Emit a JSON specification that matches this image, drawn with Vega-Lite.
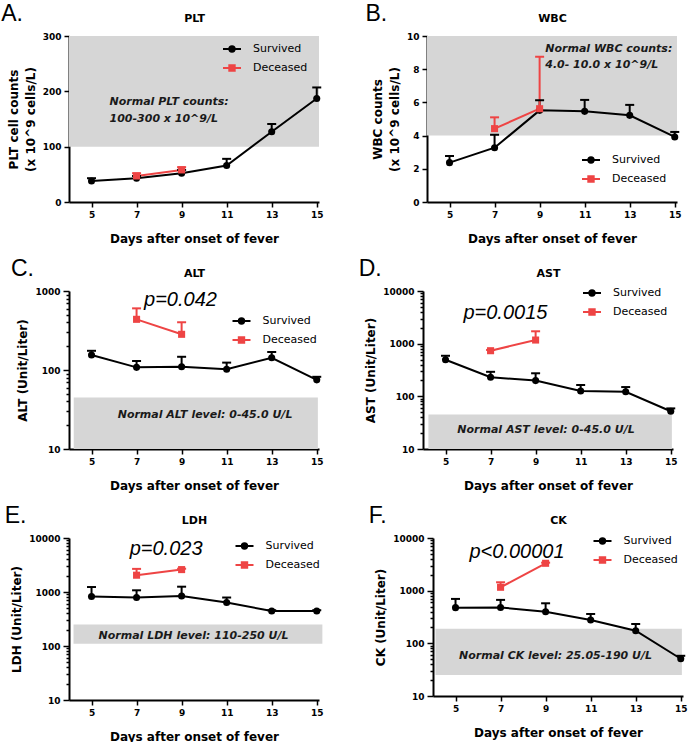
{
  "$schema": "https://vega.github.io/schema/vega-lite/v6.json",
  "padding": {"left": 1, "top": 3, "right": 2, "bottom": 0},
  "background": "white",
  "datasets": {
    "d": [
      {"panel": "PLT", "group": "Survived", "day": 5, "mean": 38, "upper": 43},
      {"panel": "PLT", "group": "Survived", "day": 7, "mean": 43, "upper": 47},
      {"panel": "PLT", "group": "Survived", "day": 9, "mean": 52, "upper": 58},
      {"panel": "PLT", "group": "Survived", "day": 11, "mean": 66, "upper": 78},
      {"panel": "PLT", "group": "Survived", "day": 13, "mean": 127, "upper": 141},
      {"panel": "PLT", "group": "Survived", "day": 15, "mean": 187, "upper": 207},
      {"panel": "PLT", "group": "Deceased", "day": 7, "mean": 47, "upper": 52},
      {"panel": "PLT", "group": "Deceased", "day": 9, "mean": 58, "upper": 63},
      {"panel": "WBC", "group": "Survived", "day": 5, "mean": 2.37, "upper": 2.77},
      {"panel": "WBC", "group": "Survived", "day": 7, "mean": 3.27, "upper": 4.05},
      {"panel": "WBC", "group": "Survived", "day": 9, "mean": 5.52, "upper": 6.13},
      {"panel": "WBC", "group": "Survived", "day": 11, "mean": 5.46, "upper": 6.15},
      {"panel": "WBC", "group": "Survived", "day": 13, "mean": 5.22, "upper": 5.85},
      {"panel": "WBC", "group": "Survived", "day": 15, "mean": 3.92, "upper": 4.22},
      {"panel": "WBC", "group": "Deceased", "day": 7, "mean": 4.42, "upper": 5.1},
      {"panel": "WBC", "group": "Deceased", "day": 9, "mean": 5.62, "upper": 8.75},
      {"panel": "ALT", "group": "Survived", "day": 5, "mean": 155, "upper": 175},
      {"panel": "ALT", "group": "Survived", "day": 7, "mean": 108, "upper": 130},
      {"panel": "ALT", "group": "Survived", "day": 9, "mean": 110, "upper": 147},
      {"panel": "ALT", "group": "Survived", "day": 11, "mean": 102, "upper": 124},
      {"panel": "ALT", "group": "Survived", "day": 13, "mean": 143, "upper": 169},
      {"panel": "ALT", "group": "Survived", "day": 15, "mean": 75, "upper": 82},
      {"panel": "ALT", "group": "Deceased", "day": 7, "mean": 438, "upper": 603},
      {"panel": "ALT", "group": "Deceased", "day": 9, "mean": 283, "upper": 402},
      {"panel": "AST", "group": "Survived", "day": 5, "mean": 494, "upper": 589},
      {"panel": "AST", "group": "Survived", "day": 7, "mean": 230, "upper": 292},
      {"panel": "AST", "group": "Survived", "day": 9, "mean": 199, "upper": 274},
      {"panel": "AST", "group": "Survived", "day": 11, "mean": 126, "upper": 164},
      {"panel": "AST", "group": "Survived", "day": 13, "mean": 122, "upper": 150},
      {"panel": "AST", "group": "Survived", "day": 15, "mean": 52, "upper": 59},
      {"panel": "AST", "group": "Deceased", "day": 7, "mean": 735, "upper": 760},
      {"panel": "AST", "group": "Deceased", "day": 9, "mean": 1172, "upper": 1718},
      {"panel": "LDH", "group": "Survived", "day": 5, "mean": 824, "upper": 1236},
      {"panel": "LDH", "group": "Survived", "day": 7, "mean": 791, "upper": 1075},
      {"panel": "LDH", "group": "Survived", "day": 9, "mean": 845, "upper": 1254},
      {"panel": "LDH", "group": "Survived", "day": 11, "mean": 640, "upper": 790},
      {"panel": "LDH", "group": "Survived", "day": 13, "mean": 444, "upper": 460},
      {"panel": "LDH", "group": "Survived", "day": 15, "mean": 444, "upper": 460},
      {"panel": "LDH", "group": "Deceased", "day": 7, "mean": 2046, "upper": 2680},
      {"panel": "LDH", "group": "Deceased", "day": 9, "mean": 2600, "upper": 2700},
      {"panel": "CK", "group": "Survived", "day": 5, "mean": 476, "upper": 697},
      {"panel": "CK", "group": "Survived", "day": 7, "mean": 480, "upper": 668},
      {"panel": "CK", "group": "Survived", "day": 9, "mean": 399, "upper": 576},
      {"panel": "CK", "group": "Survived", "day": 11, "mean": 278, "upper": 361},
      {"panel": "CK", "group": "Survived", "day": 13, "mean": 174, "upper": 233},
      {"panel": "CK", "group": "Survived", "day": 15, "mean": 51, "upper": 58},
      {"panel": "CK", "group": "Deceased", "day": 7, "mean": 1160, "upper": 1443},
      {"panel": "CK", "group": "Deceased", "day": 9, "mean": 3310, "upper": 3400}
    ]
  },
  "config": {
    "view": {"stroke": null},
    "font": "DejaVu Sans",
    "axis": {"domainColor": "#000000", "domainWidth": 2, "tickColor": "#000000", "tickWidth": 1.5, "tickSize": 5, "grid": false, "labelFont": "DejaVu Sans", "labelFontWeight": "bold", "labelFontSize": 9, "labelColor": "#000000", "titleFont": "DejaVu Sans", "titleFontWeight": "bold", "titleFontSize": 12, "titleColor": "#000000", "labelPadding": 3},
    "axisY": {"titlePadding": 5, "titleLineHeight": 17},
    "axisX": {"titlePadding": 14},
    "axisTop": {"domain": false, "ticks": false, "labels": false, "titleFontSize": 11, "titlePadding": 13},
    "title": {"anchor": "start", "frame": "bounds", "font": "Liberation Sans", "fontSize": 23, "fontWeight": "normal", "color": "#000000", "baseline": "alphabetic", "offset": -14, "dx": -6},
    "legend": {"padding": 0, "clipHeight": 13, "rowPadding": 6, "labelFont": "DejaVu Sans", "labelFontSize": 11, "labelColor": "#000000"}
  },
  "resolve": {"scale": {"color": "independent", "stroke": "independent", "fill": "independent", "shape": "independent"}, "legend": {"color": "independent", "stroke": "independent", "fill": "independent", "shape": "independent"}},
  "spacing": 14,
  "vconcat": [
    {
      "spacing": 41,
      "resolve": {"scale": {"color": "independent", "stroke": "independent", "fill": "independent", "shape": "independent"}, "legend": {"color": "independent", "stroke": "independent", "fill": "independent", "shape": "independent"}},
      "hconcat": [
        {
          "title": "A.",
          "width": 250, "height": 166,
          "data": {"name": "d"},
          "transform": [{"filter": "datum.panel === 'PLT'"}],
          "resolve": {"axis": {"x": "independent"}},
          "encoding": {
            "x": {"field": "day", "type": "quantitative", "scale": {"domain": [4, 15.1], "nice": false, "zero": false}, "axis": null},
            "y": {"field": "mean", "type": "quantitative", "scale": {"domain": [0, 300], "nice": false}, "axis": {"values": [0, 100, 200, 300], "title": ["PLT cell counts", "(x 10^9 cells/L)"]}}
          },
          "layer": [
            {"transform": [{"filter": "datum.day === 5 && datum.group === 'Survived'"}], "mark": {"type": "rect", "color": "#d6d6d6"}, "encoding": {"x": {"datum": 4, "axis": {"orient": "top", "title": "PLT"}}, "x2": {"datum": 15.1}, "y": {"datum": 100}, "y2": {"datum": 300}}},
            {"transform": [{"filter": "datum.day === 5 && datum.group === 'Survived'"}], "mark": {"type": "text", "align": "left", "baseline": "top", "font": "DejaVu Sans", "fontSize": 11, "fontWeight": "bold", "fontStyle": "italic", "lineHeight": 17, "color": "#1a1a1a"}, "encoding": {"x": {"datum": 5.8}, "y": {"datum": 191}, "text": {"value": ["Normal PLT counts:", "100-300 x 10^9/L"]}}},
            {"mark": {"type": "line", "strokeWidth": 2}, "encoding": {
              "x": {"field": "day", "type": "quantitative", "axis": {"values": [5, 7, 9, 11, 13, 15], "title": "Days after onset of fever"}},
              "stroke": {"field": "group", "type": "nominal", "sort": "descending", "scale": {"range": ["#000000", "#ee4444"]}, "legend": {"title": null, "orient": "none", "legendX": 153, "legendY": 6.5, "symbolType": {"expr": "datum.value === 'Survived' ? 'M-1,0H1M0.3,0A0.3,0.3,0,1,1,-0.3,0A0.3,0.3,0,1,1,0.3,0ZM0.1,0A0.1,0.1,0,1,1,-0.1,0A0.1,0.1,0,1,1,0.1,0Z' : 'M-1,0H1M-0.3,-0.3H0.3V0.3H-0.3ZM-0.1,-0.1H0.1V0.1H-0.1Z'"}, "symbolSize": 324, "symbolStrokeWidth": 2, "labelOffset": 11}}}},
            {"mark": {"type": "rule", "strokeWidth": 2}, "encoding": {"y2": {"field": "upper"}, "color": {"field": "group", "type": "nominal", "scale": {"domain": ["Survived", "Deceased"], "range": ["#000000", "#ee4444"]}, "legend": null}}},
            {"mark": {"type": "tick", "orient": "horizontal", "size": 9, "thickness": 2, "opacity": 1}, "encoding": {"y": {"field": "upper", "type": "quantitative"}, "color": {"field": "group", "type": "nominal", "scale": {"domain": ["Survived", "Deceased"], "range": ["#000000", "#ee4444"]}, "legend": null}}},
            {"mark": {"type": "point", "filled": true, "opacity": 1, "size": 50}, "encoding": {
              "shape": {"field": "group", "type": "nominal", "scale": {"domain": ["Survived", "Deceased"], "range": ["circle", "square"]}, "legend": null},
              "fill": {"field": "group", "type": "nominal", "scale": {"domain": ["Survived", "Deceased"], "range": ["#000000", "#ee4444"]}, "legend": null}
            }}
          ]
        },
        {
          "title": "B.",
          "width": 250, "height": 166,
          "data": {"name": "d"},
          "transform": [{"filter": "datum.panel === 'WBC'"}],
          "resolve": {"axis": {"x": "independent"}},
          "encoding": {
            "x": {"field": "day", "type": "quantitative", "scale": {"domain": [4, 15.1], "nice": false, "zero": false}, "axis": null},
            "y": {"field": "mean", "type": "quantitative", "scale": {"domain": [0, 10], "nice": false}, "axis": {"values": [0, 2, 4, 6, 8, 10], "title": ["WBC counts", "(x 10^9 cells/L)"]}}
          },
          "layer": [
            {"transform": [{"filter": "datum.day === 5 && datum.group === 'Survived'"}], "mark": {"type": "rect", "color": "#d6d6d6"}, "encoding": {"x": {"datum": 4, "axis": {"orient": "top", "title": "WBC"}}, "x2": {"datum": 15.1}, "y": {"datum": 4}, "y2": {"datum": 10}}},
            {"transform": [{"filter": "datum.day === 5 && datum.group === 'Survived'"}], "mark": {"type": "text", "align": "left", "baseline": "top", "font": "DejaVu Sans", "fontSize": 11, "fontWeight": "bold", "fontStyle": "italic", "lineHeight": 16, "color": "#1a1a1a"}, "encoding": {"x": {"datum": 9.25}, "y": {"datum": 9.6}, "text": {"value": ["Normal WBC counts:", "4.0- 10.0 x 10^9/L"]}}},
            {"mark": {"type": "line", "strokeWidth": 2}, "encoding": {
              "x": {"field": "day", "type": "quantitative", "axis": {"values": [5, 7, 9, 11, 13, 15], "title": "Days after onset of fever"}},
              "stroke": {"field": "group", "type": "nominal", "sort": "descending", "scale": {"range": ["#000000", "#ee4444"]}, "legend": {"title": null, "orient": "none", "legendX": 154, "legendY": 117.5, "symbolType": {"expr": "datum.value === 'Survived' ? 'M-1,0H1M0.3,0A0.3,0.3,0,1,1,-0.3,0A0.3,0.3,0,1,1,0.3,0ZM0.1,0A0.1,0.1,0,1,1,-0.1,0A0.1,0.1,0,1,1,0.1,0Z' : 'M-1,0H1M-0.3,-0.3H0.3V0.3H-0.3ZM-0.1,-0.1H0.1V0.1H-0.1Z'"}, "symbolSize": 324, "symbolStrokeWidth": 2, "labelOffset": 11}}}},
            {"mark": {"type": "rule", "strokeWidth": 2}, "encoding": {"y2": {"field": "upper"}, "color": {"field": "group", "type": "nominal", "scale": {"domain": ["Survived", "Deceased"], "range": ["#000000", "#ee4444"]}, "legend": null}}},
            {"mark": {"type": "tick", "orient": "horizontal", "size": 9, "thickness": 2, "opacity": 1}, "encoding": {"y": {"field": "upper", "type": "quantitative"}, "color": {"field": "group", "type": "nominal", "scale": {"domain": ["Survived", "Deceased"], "range": ["#000000", "#ee4444"]}, "legend": null}}},
            {"mark": {"type": "point", "filled": true, "opacity": 1, "size": 50}, "encoding": {
              "shape": {"field": "group", "type": "nominal", "scale": {"domain": ["Survived", "Deceased"], "range": ["circle", "square"]}, "legend": null},
              "fill": {"field": "group", "type": "nominal", "scale": {"domain": ["Survived", "Deceased"], "range": ["#000000", "#ee4444"]}, "legend": null}
            }}
          ]
        }
      ]
    },
    {
      "spacing": 34,
      "resolve": {"scale": {"color": "independent", "stroke": "independent", "fill": "independent", "shape": "independent"}, "legend": {"color": "independent", "stroke": "independent", "fill": "independent", "shape": "independent"}},
      "hconcat": [
        {
          "title": "C.",
          "width": 250, "height": 158,
          "data": {"name": "d"},
          "transform": [{"filter": "datum.panel === 'ALT'"}],
          "resolve": {"axis": {"x": "independent"}},
          "encoding": {
            "x": {"field": "day", "type": "quantitative", "scale": {"domain": [4, 15.1], "nice": false, "zero": false}, "axis": null},
            "y": {"field": "mean", "type": "quantitative", "scale": {"type": "log", "domain": [10, 1000], "nice": false}, "axis": {"values": [10, 20, 30, 40, 50, 60, 70, 80, 90, 100, 200, 300, 400, 500, 600, 700, 800, 900, 1000], "format": "d", "labelOverlap": false, "labelExpr": "indexof([10, 100, 1000, 10000], datum.value) >= 0 ? datum.label : ''", "tickSize": {"condition": {"test": "indexof([10, 100, 1000, 10000], datum.value) >= 0", "value": 6}, "value": 3}, "title": "ALT (Unit/Liter)"}}
          },
          "layer": [
            {"transform": [{"filter": "datum.day === 5 && datum.group === 'Survived'"}], "mark": {"type": "rect", "color": "#d6d6d6"}, "encoding": {"x": {"datum": 4.21, "axis": {"orient": "top", "title": "ALT"}}, "x2": {"datum": 15.05}, "y": {"datum": 10}, "y2": {"datum": 45}}},
            {"transform": [{"filter": "datum.day === 5 && datum.group === 'Survived'"}], "mark": {"type": "text", "align": "center", "baseline": "middle", "font": "DejaVu Sans", "fontSize": 11, "fontWeight": "bold", "fontStyle": "italic", "color": "#1a1a1a"}, "encoding": {"x": {"datum": 10.04}, "y": {"datum": 27}, "text": {"value": "Normal ALT level: 0-45.0 U/L"}}},
            {"transform": [{"filter": "datum.day === 5 && datum.group === 'Survived'"}], "mark": {"type": "text", "align": "center", "baseline": "middle", "font": "Liberation Sans", "fontSize": 20, "fontStyle": "italic", "color": "#000000"}, "encoding": {"x": {"datum": 8.95}, "y": {"datum": 780}, "text": {"value": "p=0.042"}}},
            {"mark": {"type": "line", "strokeWidth": 2}, "encoding": {
              "x": {"field": "day", "type": "quantitative", "axis": {"values": [5, 7, 9, 11, 13, 15], "title": "Days after onset of fever"}},
              "stroke": {"field": "group", "type": "nominal", "sort": "descending", "scale": {"range": ["#000000", "#ee4444"]}, "legend": {"title": null, "orient": "none", "legendX": 162.5, "legendY": 23.5, "symbolType": {"expr": "datum.value === 'Survived' ? 'M-1,0H1M0.3,0A0.3,0.3,0,1,1,-0.3,0A0.3,0.3,0,1,1,0.3,0ZM0.1,0A0.1,0.1,0,1,1,-0.1,0A0.1,0.1,0,1,1,0.1,0Z' : 'M-1,0H1M-0.3,-0.3H0.3V0.3H-0.3ZM-0.1,-0.1H0.1V0.1H-0.1Z'"}, "symbolSize": 324, "symbolStrokeWidth": 2, "labelOffset": 11}}}},
            {"mark": {"type": "rule", "strokeWidth": 2}, "encoding": {"y2": {"field": "upper"}, "color": {"field": "group", "type": "nominal", "scale": {"domain": ["Survived", "Deceased"], "range": ["#000000", "#ee4444"]}, "legend": null}}},
            {"mark": {"type": "tick", "orient": "horizontal", "size": 9, "thickness": 2, "opacity": 1}, "encoding": {"y": {"field": "upper", "type": "quantitative"}, "color": {"field": "group", "type": "nominal", "scale": {"domain": ["Survived", "Deceased"], "range": ["#000000", "#ee4444"]}, "legend": null}}},
            {"mark": {"type": "point", "filled": true, "opacity": 1, "size": 50}, "encoding": {
              "shape": {"field": "group", "type": "nominal", "scale": {"domain": ["Survived", "Deceased"], "range": ["circle", "square"]}, "legend": null},
              "fill": {"field": "group", "type": "nominal", "scale": {"domain": ["Survived", "Deceased"], "range": ["#000000", "#ee4444"]}, "legend": null}
            }}
          ]
        },
        {
          "title": "D.",
          "width": 250, "height": 158,
          "data": {"name": "d"},
          "transform": [{"filter": "datum.panel === 'AST'"}],
          "resolve": {"axis": {"x": "independent"}},
          "encoding": {
            "x": {"field": "day", "type": "quantitative", "scale": {"domain": [4, 15.1], "nice": false, "zero": false}, "axis": null},
            "y": {"field": "mean", "type": "quantitative", "scale": {"type": "log", "domain": [10, 10000], "nice": false}, "axis": {"values": [10, 20, 30, 40, 50, 60, 70, 80, 90, 100, 200, 300, 400, 500, 600, 700, 800, 900, 1000, 2000, 3000, 4000, 5000, 6000, 7000, 8000, 9000, 10000], "format": "d", "labelOverlap": false, "labelExpr": "indexof([10, 100, 1000, 10000], datum.value) >= 0 ? datum.label : ''", "tickSize": {"condition": {"test": "indexof([10, 100, 1000, 10000], datum.value) >= 0", "value": 6}, "value": 3}, "title": "AST (Unit/Liter)"}}
          },
          "layer": [
            {"transform": [{"filter": "datum.day === 5 && datum.group === 'Survived'"}], "mark": {"type": "rect", "color": "#d6d6d6"}, "encoding": {"x": {"datum": 4.24, "axis": {"orient": "top", "title": "AST"}}, "x2": {"datum": 15.05}, "y": {"datum": 10}, "y2": {"datum": 45}}},
            {"transform": [{"filter": "datum.day === 5 && datum.group === 'Survived'"}], "mark": {"type": "text", "align": "center", "baseline": "middle", "font": "DejaVu Sans", "fontSize": 11, "fontWeight": "bold", "fontStyle": "italic", "color": "#1a1a1a"}, "encoding": {"x": {"datum": 9.46}, "y": {"datum": 23}, "text": {"value": "Normal AST level: 0-45.0 U/L"}}},
            {"transform": [{"filter": "datum.day === 5 && datum.group === 'Survived'"}], "mark": {"type": "text", "align": "center", "baseline": "middle", "font": "Liberation Sans", "fontSize": 20, "fontStyle": "italic", "color": "#000000"}, "encoding": {"x": {"datum": 7.66}, "y": {"datum": 3800}, "text": {"value": "p=0.0015"}}},
            {"mark": {"type": "line", "strokeWidth": 2}, "encoding": {
              "x": {"field": "day", "type": "quantitative", "axis": {"values": [5, 7, 9, 11, 13, 15], "title": "Days after onset of fever"}},
              "stroke": {"field": "group", "type": "nominal", "sort": "descending", "scale": {"range": ["#000000", "#ee4444"]}, "legend": {"title": null, "orient": "none", "legendX": 159, "legendY": -4.5, "symbolType": {"expr": "datum.value === 'Survived' ? 'M-1,0H1M0.3,0A0.3,0.3,0,1,1,-0.3,0A0.3,0.3,0,1,1,0.3,0ZM0.1,0A0.1,0.1,0,1,1,-0.1,0A0.1,0.1,0,1,1,0.1,0Z' : 'M-1,0H1M-0.3,-0.3H0.3V0.3H-0.3ZM-0.1,-0.1H0.1V0.1H-0.1Z'"}, "symbolSize": 324, "symbolStrokeWidth": 2, "labelOffset": 11}}}},
            {"mark": {"type": "rule", "strokeWidth": 2}, "encoding": {"y2": {"field": "upper"}, "color": {"field": "group", "type": "nominal", "scale": {"domain": ["Survived", "Deceased"], "range": ["#000000", "#ee4444"]}, "legend": null}}},
            {"mark": {"type": "tick", "orient": "horizontal", "size": 9, "thickness": 2, "opacity": 1}, "encoding": {"y": {"field": "upper", "type": "quantitative"}, "color": {"field": "group", "type": "nominal", "scale": {"domain": ["Survived", "Deceased"], "range": ["#000000", "#ee4444"]}, "legend": null}}},
            {"mark": {"type": "point", "filled": true, "opacity": 1, "size": 50}, "encoding": {
              "shape": {"field": "group", "type": "nominal", "scale": {"domain": ["Survived", "Deceased"], "range": ["circle", "square"]}, "legend": null},
              "fill": {"field": "group", "type": "nominal", "scale": {"domain": ["Survived", "Deceased"], "range": ["#000000", "#ee4444"]}, "legend": null}
            }}
          ]
        }
      ]
    },
    {
      "spacing": 44,
      "resolve": {"scale": {"color": "independent", "stroke": "independent", "fill": "independent", "shape": "independent"}, "legend": {"color": "independent", "stroke": "independent", "fill": "independent", "shape": "independent"}},
      "hconcat": [
        {
          "title": "E.",
          "width": 250, "height": 162,
          "data": {"name": "d"},
          "transform": [{"filter": "datum.panel === 'LDH'"}],
          "resolve": {"axis": {"x": "independent"}},
          "encoding": {
            "x": {"field": "day", "type": "quantitative", "scale": {"domain": [4, 15.1], "nice": false, "zero": false}, "axis": null},
            "y": {"field": "mean", "type": "quantitative", "scale": {"type": "log", "domain": [10, 10000], "nice": false}, "axis": {"values": [10, 20, 30, 40, 50, 60, 70, 80, 90, 100, 200, 300, 400, 500, 600, 700, 800, 900, 1000, 2000, 3000, 4000, 5000, 6000, 7000, 8000, 9000, 10000], "format": "d", "labelOverlap": false, "labelExpr": "indexof([10, 100, 1000, 10000], datum.value) >= 0 ? datum.label : ''", "tickSize": {"condition": {"test": "indexof([10, 100, 1000, 10000], datum.value) >= 0", "value": 6}, "value": 3}, "title": "LDH (Unit/Liter)"}}
          },
          "layer": [
            {"transform": [{"filter": "datum.day === 5 && datum.group === 'Survived'"}], "mark": {"type": "rect", "color": "#d6d6d6"}, "encoding": {"x": {"datum": 4.2, "axis": {"orient": "top", "title": "LDH"}}, "x2": {"datum": 15.25}, "y": {"datum": 110}, "y2": {"datum": 250}}},
            {"transform": [{"filter": "datum.day === 5 && datum.group === 'Survived'"}], "mark": {"type": "text", "align": "center", "baseline": "middle", "font": "DejaVu Sans", "fontSize": 11, "fontWeight": "bold", "fontStyle": "italic", "color": "#1a1a1a"}, "encoding": {"x": {"datum": 9.53}, "y": {"datum": 155}, "text": {"value": "Normal LDH level: 110-250 U/L"}}},
            {"transform": [{"filter": "datum.day === 5 && datum.group === 'Survived'"}], "mark": {"type": "text", "align": "center", "baseline": "middle", "font": "Liberation Sans", "fontSize": 20, "fontStyle": "italic", "color": "#000000"}, "encoding": {"x": {"datum": 8.31}, "y": {"datum": 6300}, "text": {"value": "p=0.023"}}},
            {"mark": {"type": "line", "strokeWidth": 2}, "encoding": {
              "x": {"field": "day", "type": "quantitative", "axis": {"values": [5, 7, 9, 11, 13, 15], "title": "Days after onset of fever"}},
              "stroke": {"field": "group", "type": "nominal", "sort": "descending", "scale": {"range": ["#000000", "#ee4444"]}, "legend": {"title": null, "orient": "none", "legendX": 165.5, "legendY": 1.5, "symbolType": {"expr": "datum.value === 'Survived' ? 'M-1,0H1M0.3,0A0.3,0.3,0,1,1,-0.3,0A0.3,0.3,0,1,1,0.3,0ZM0.1,0A0.1,0.1,0,1,1,-0.1,0A0.1,0.1,0,1,1,0.1,0Z' : 'M-1,0H1M-0.3,-0.3H0.3V0.3H-0.3ZM-0.1,-0.1H0.1V0.1H-0.1Z'"}, "symbolSize": 324, "symbolStrokeWidth": 2, "labelOffset": 11}}}},
            {"mark": {"type": "rule", "strokeWidth": 2}, "encoding": {"y2": {"field": "upper"}, "color": {"field": "group", "type": "nominal", "scale": {"domain": ["Survived", "Deceased"], "range": ["#000000", "#ee4444"]}, "legend": null}}},
            {"mark": {"type": "tick", "orient": "horizontal", "size": 9, "thickness": 2, "opacity": 1}, "encoding": {"y": {"field": "upper", "type": "quantitative"}, "color": {"field": "group", "type": "nominal", "scale": {"domain": ["Survived", "Deceased"], "range": ["#000000", "#ee4444"]}, "legend": null}}},
            {"mark": {"type": "point", "filled": true, "opacity": 1, "size": 50}, "encoding": {
              "shape": {"field": "group", "type": "nominal", "scale": {"domain": ["Survived", "Deceased"], "range": ["circle", "square"]}, "legend": null},
              "fill": {"field": "group", "type": "nominal", "scale": {"domain": ["Survived", "Deceased"], "range": ["#000000", "#ee4444"]}, "legend": null}
            }}
          ]
        },
        {
          "title": "F.",
          "width": 250, "height": 158,
          "data": {"name": "d"},
          "transform": [{"filter": "datum.panel === 'CK'"}],
          "resolve": {"axis": {"x": "independent"}},
          "encoding": {
            "x": {"field": "day", "type": "quantitative", "scale": {"domain": [4, 15.1], "nice": false, "zero": false}, "axis": null},
            "y": {"field": "mean", "type": "quantitative", "scale": {"type": "log", "domain": [10, 10000], "nice": false}, "axis": {"values": [10, 20, 30, 40, 50, 60, 70, 80, 90, 100, 200, 300, 400, 500, 600, 700, 800, 900, 1000, 2000, 3000, 4000, 5000, 6000, 7000, 8000, 9000, 10000], "format": "d", "labelOverlap": false, "labelExpr": "indexof([10, 100, 1000, 10000], datum.value) >= 0 ? datum.label : ''", "tickSize": {"condition": {"test": "indexof([10, 100, 1000, 10000], datum.value) >= 0", "value": 6}, "value": 3}, "title": "CK (Unit/Liter)"}}
          },
          "layer": [
            {"transform": [{"filter": "datum.day === 5 && datum.group === 'Survived'"}], "mark": {"type": "rect", "color": "#d6d6d6"}, "encoding": {"x": {"datum": 4.11, "axis": {"orient": "top", "title": "CK"}}, "x2": {"datum": 15.05}, "y": {"datum": 25.05}, "y2": {"datum": 190}}},
            {"transform": [{"filter": "datum.day === 5 && datum.group === 'Survived'"}], "mark": {"type": "text", "align": "center", "baseline": "middle", "font": "DejaVu Sans", "fontSize": 11, "fontWeight": "bold", "fontStyle": "italic", "color": "#1a1a1a"}, "encoding": {"x": {"datum": 9.44}, "y": {"datum": 57}, "text": {"value": "Normal CK level: 25.05-190 U/L"}}},
            {"transform": [{"filter": "datum.day === 5 && datum.group === 'Survived'"}], "mark": {"type": "text", "align": "center", "baseline": "middle", "font": "Liberation Sans", "fontSize": 20, "fontStyle": "italic", "color": "#000000"}, "encoding": {"x": {"datum": 7.73}, "y": {"datum": 5500}, "text": {"value": "p<0.00001"}}},
            {"mark": {"type": "line", "strokeWidth": 2}, "encoding": {
              "x": {"field": "day", "type": "quantitative", "axis": {"values": [5, 7, 9, 11, 13, 15], "title": "Days after onset of fever"}},
              "stroke": {"field": "group", "type": "nominal", "sort": "descending", "scale": {"range": ["#000000", "#ee4444"]}, "legend": {"title": null, "orient": "none", "legendX": 159.5, "legendY": -3.5, "symbolType": {"expr": "datum.value === 'Survived' ? 'M-1,0H1M0.3,0A0.3,0.3,0,1,1,-0.3,0A0.3,0.3,0,1,1,0.3,0ZM0.1,0A0.1,0.1,0,1,1,-0.1,0A0.1,0.1,0,1,1,0.1,0Z' : 'M-1,0H1M-0.3,-0.3H0.3V0.3H-0.3ZM-0.1,-0.1H0.1V0.1H-0.1Z'"}, "symbolSize": 324, "symbolStrokeWidth": 2, "labelOffset": 11}}}},
            {"mark": {"type": "rule", "strokeWidth": 2}, "encoding": {"y2": {"field": "upper"}, "color": {"field": "group", "type": "nominal", "scale": {"domain": ["Survived", "Deceased"], "range": ["#000000", "#ee4444"]}, "legend": null}}},
            {"mark": {"type": "tick", "orient": "horizontal", "size": 9, "thickness": 2, "opacity": 1}, "encoding": {"y": {"field": "upper", "type": "quantitative"}, "color": {"field": "group", "type": "nominal", "scale": {"domain": ["Survived", "Deceased"], "range": ["#000000", "#ee4444"]}, "legend": null}}},
            {"mark": {"type": "point", "filled": true, "opacity": 1, "size": 50}, "encoding": {
              "shape": {"field": "group", "type": "nominal", "scale": {"domain": ["Survived", "Deceased"], "range": ["circle", "square"]}, "legend": null},
              "fill": {"field": "group", "type": "nominal", "scale": {"domain": ["Survived", "Deceased"], "range": ["#000000", "#ee4444"]}, "legend": null}
            }}
          ]
        }
      ]
    }
  ]
}
